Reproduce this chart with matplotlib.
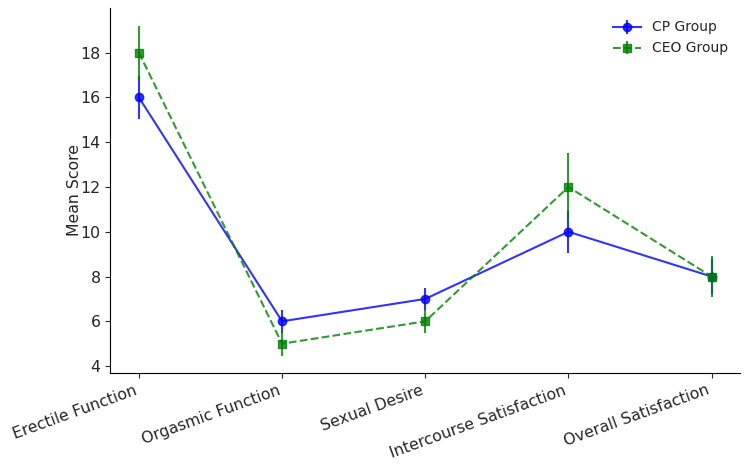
import numpy as np
import matplotlib.pyplot as plt

categories = ['Erectile Function', 'Orgasmic Function', 'Sexual Desire',
              'Intercourse Satisfaction', 'Overall Satisfaction']
cp_mean = [16, 6, 7, 10, 8]
cp_err = [0.95, 0.5, 0.5, 0.95, 0.8]
ceo_mean = [18, 5, 6, 12, 8]
ceo_err = [1.2, 0.55, 0.5, 1.5, 0.9]

x = np.arange(len(categories))

plt.rcParams['text.color'] = '#262626'
plt.rcParams['xtick.color'] = '#262626'
plt.rcParams['ytick.color'] = '#262626'
plt.rcParams['axes.labelcolor'] = '#262626'

fig, ax = plt.subplots(figsize=(7.5, 4.66), dpi=100)
ax.errorbar(x, cp_mean, yerr=cp_err, fmt='-o', color='blue', alpha=0.8,
            label='CP Group')
ax.errorbar(x, ceo_mean, yerr=ceo_err, fmt='--s', color='green', alpha=0.8,
            label='CEO Group')

ax.set_xticks(x)
ax.set_xticklabels(categories, rotation=20, ha='right', fontsize=11.3)
ax.set_ylabel('Mean Score', fontsize=11.3, labelpad=-1)
ax.set_yticks([4, 6, 8, 10, 12, 14, 16, 18])
ax.tick_params(axis='y', labelsize=11.3)
ax.set_xlim(-0.2, 4.2)
ax.set_ylim(3.7, 20)
ax.spines['top'].set_visible(False)
ax.spines['right'].set_visible(False)
ax.legend(frameon=False)

plt.subplots_adjust(left=0.147, right=0.987, top=0.983, bottom=0.2)
plt.savefig('out.png')
